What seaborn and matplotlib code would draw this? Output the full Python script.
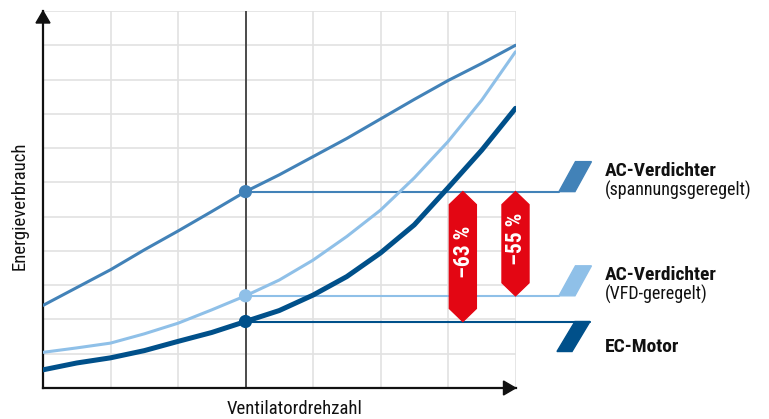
import numpy as np
import pandas as pd
import matplotlib
matplotlib.use("Agg")
import matplotlib.pyplot as plt
from matplotlib import font_manager
from matplotlib.patches import Polygon
import seaborn as sns

# ---- data -------------------------------------------------------------
speed = [0, 0.5, 1, 1.5, 2, 2.5, 3, 3.5, 4, 4.5, 5, 5.5, 6, 6.5, 7]
ac_voltage = [2.41, 2.93, 3.45, 4.03, 4.58, 5.15, 5.73, 6.22, 6.75, 7.28,
              7.85, 8.42, 8.97, 9.47, 10.0]
ac_vfd = [1.04, 1.17, 1.31, 1.58, 1.89, 2.28, 2.69, 3.15, 3.73, 4.42,
          5.19, 6.13, 7.19, 8.40, 9.81]
ec_motor = [0.53, 0.73, 0.88, 1.09, 1.36, 1.62, 1.94, 2.26, 2.71, 3.25,
            3.94, 4.76, 5.84, 6.94, 8.16]

series_names = ["AC-Verdichter (spannungsgeregelt)",
                "AC-Verdichter (VFD-geregelt)",
                "EC-Motor"]
legend_titles = ["AC-Verdichter", "AC-Verdichter", "EC-Motor"]
legend_subtitles = ["(spannungsgeregelt)", "(VFD-geregelt)", ""]
savings_labels = ["\u201363 %", "\u201355 %"]
ref_speed = 3
x_label = "Ventilatordrehzahl"
y_label = "Energieverbrauch"

colors = ["#4282b8", "#8fc0e8", "#00508a"]
red = "#e30613"


def pick_font(names):
    for n in names:
        try:
            font_manager.findfont(n, fallback_to_default=False)
            return n
        except Exception:
            continue
    return "DejaVu Sans"


sns.set_theme(style="white")
font = pick_font(["Liberation Sans Narrow", "Roboto Condensed", "Liberation Sans"])
plt.rcParams["font.family"] = [font, "DejaVu Sans"]

df = pd.DataFrame({
    "speed": speed * 3,
    "energy": ac_voltage + ac_vfd + ec_motor,
    "series": sum([[n] * len(speed) for n in series_names], []),
})

fig = plt.figure(figsize=(7.69, 4.19), dpi=100)
ax = fig.add_axes([43 / 769, 31 / 419, 472.5 / 769, 377 / 419])
ax.set_xlim(0, 7)
ax.set_ylim(0, 11)

# grid
ax.set_xticks(range(8))
ax.set_yticks(range(12))
ax.set_xticklabels([])
ax.set_yticklabels([])
ax.tick_params(length=0)
ax.grid(True, color="#e2e2e2", lw=1.2, zorder=0)
ax.set_axisbelow(True)
for s in ["top", "right"]:
    ax.spines[s].set_visible(False)
for s in ["left", "bottom"]:
    ax.spines[s].set_color("#111111")
    ax.spines[s].set_linewidth(1.6)

# axis arrows
px_x = 7 / 472.5
px_y = 11 / 377
ax.add_patch(Polygon([[0, 11], [-7 * px_x, 11 - 12 * px_y], [7 * px_x, 11 - 12 * px_y]],
                     closed=True, color="#111111", clip_on=False, zorder=6))
ax.add_patch(Polygon([[7, 0], [7 - 12 * px_x, 7 * px_y], [7 - 12 * px_x, -7 * px_y]],
                     closed=True, color="#111111", clip_on=False, zorder=6))

# reference speed
ax.plot([ref_speed, ref_speed], [0, 11], color="#222222", lw=1.1, zorder=2)

# curves
widths = {series_names[0]: 2.2, series_names[1]: 2.2, series_names[2]: 3.6}
for name, c in zip(series_names, colors):
    sns.lineplot(data=df[df["series"] == name], x="speed", y="energy",
                 color=c, lw=widths[name], ax=ax, zorder=4, legend=False)

# values at the reference speed
idx = speed.index(ref_speed)
ref_vals = [ac_voltage[idx], ac_vfd[idx], ec_motor[idx]]
line_ends = [7.644, 7.644, 8.104]
for v, c, xe in zip(ref_vals, colors, line_ends):
    ax.plot([ref_speed, xe], [v, v], color=c, lw=1.5, zorder=3, clip_on=False)
sns.scatterplot(x=[ref_speed] * 3, y=ref_vals, hue=series_names,
                palette=colors, s=90, linewidth=0, ax=ax, zorder=5, legend=False)

# legend markers (parallelograms)
h = 30 * px_y
sl = 16 * px_x
for v, c, i in zip(ref_vals, colors, range(3)):
    if i < 2:
        pts = [[7.644, v], [7.644 + sl, v], [7.644 + 2 * sl + 0.5 * px_x, v + h],
               [7.644 + sl + 0.5 * px_x, v + h]]
    else:
        pts = [[7.881, v], [8.104, v], [8.104 - 18 * px_x, v - h],
               [7.881 - 18 * px_x, v - h]]
    ax.add_patch(Polygon(pts, closed=True, color=c, clip_on=False, zorder=3))

# legend text
tx = 8.33
title_fs = 14
sub_fs = 13
for i in range(2):
    ax.text(tx, ref_vals[i] + 0.46, legend_titles[i], fontsize=title_fs,
            fontweight="bold", va="baseline", ha="left", color="#111111")
    ax.text(tx, ref_vals[i] - 0.11, legend_subtitles[i], fontsize=sub_fs,
            va="baseline", ha="left", color="#111111")
ax.text(tx, ref_vals[2] - 0.88, legend_titles[2], fontsize=title_fs, fontweight="bold",
        va="baseline", ha="left", color="#111111")

# savings badges
badge_x = [6.22, 7.0]
badge_bottom = [ec_motor[idx], ac_vfd[idx]]
hw = 13.5 * px_x
tip = 13 * px_y
for bx, bb, lab in zip(badge_x, badge_bottom, savings_labels):
    top = ac_voltage[idx]
    pts = [[bx, top], [bx + hw, top - tip], [bx + hw, bb + tip], [bx, bb],
           [bx - hw, bb + tip], [bx - hw, top - tip]]
    ax.add_patch(Polygon(pts, closed=True, color=red, zorder=7, clip_on=False))
    ax.text(bx + 0.01, (top + bb) / 2 + 0.14, lab, rotation=90, color="white",
            fontsize=15.5, fontweight="bold", ha="center", va="center", zorder=8)

# axis titles
fig.text(20 / 769, 1 - 206 / 419, y_label, rotation=90, fontsize=13.5,
         ha="center", va="center", color="#111111")
fig.text(295 / 769, 1 - 409 / 419, x_label, fontsize=13.5,
         ha="center", va="center", color="#111111")

ax.set_xlabel("")
ax.set_ylabel("")
fig.savefig("out.png", dpi=100)
